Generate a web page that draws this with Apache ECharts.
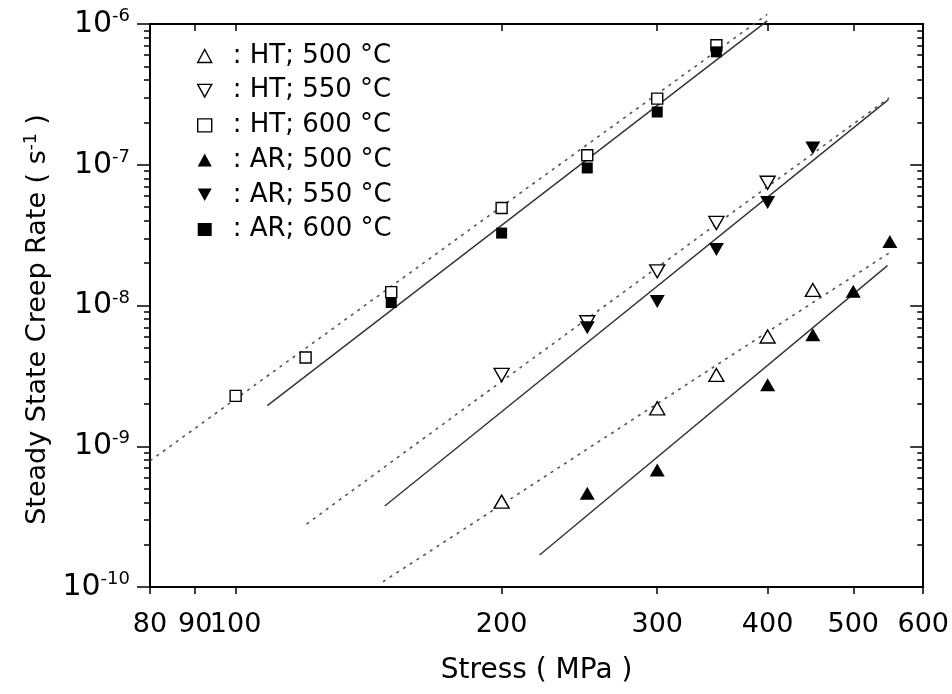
<!DOCTYPE html>
<html><head><meta charset="utf-8">
<script src="https://cdn.jsdelivr.net/npm/echarts@6/dist/echarts.min.js"></script>
<style>html,body{margin:0;padding:0;background:#fff}#c{width:952px;height:694px}</style>
</head><body><div id="c"></div>
<script>
// ---- axis ticks ----
const xTicks = [80, 90, 100, 200, 300, 400, 500, 600];
const yDecades = [-10, -9, -8, -7, -6];
const yMinorMult = [2, 3, 4, 5, 6, 7, 8, 9];

// ---- measured points (stress MPa, steady state creep rate 1/s) ----
const ht500Stress = [200, 300, 350, 400, 450];
const ht500Rate   = [4.04e-10, 1.86e-9, 3.21e-9, 6.02e-9, 1.29e-8];
const ht550Stress = [200, 250, 300, 350, 400];
const ht550Rate   = [3.21e-9, 7.6e-9, 1.75e-8, 3.86e-8, 7.45e-8];
const ht600Stress = [100, 120, 150, 200, 250, 300, 350];
const ht600Rate   = [2.28e-9, 4.27e-9, 1.245e-8, 4.93e-8, 1.167e-7, 2.95e-7, 7.07e-7];
const ar500Stress = [250, 300, 400, 450, 500, 550];
const ar500Rate   = [4.63e-10, 6.78e-10, 2.73e-9, 6.19e-9, 1.26e-8, 2.85e-8];
const ar550Stress = [250, 300, 350, 400, 450];
const ar550Rate   = [6.94e-9, 1.067e-8, 2.5e-8, 5.4e-8, 1.317e-7];
const ar600Stress = [150, 200, 250, 300, 350];
const ar600Rate   = [1.05e-8, 3.27e-8, 9.49e-8, 2.37e-7, 6.34e-7];

// ---- fitted lines (end points) ----
const ht500FitStress = [146.8, 549];
const ht500FitRate   = [1.09e-10, 2.36e-8];
const ht550FitStress = [120.3, 549];
const ht550FitRate   = [2.80e-10, 2.99e-7];
const ht600FitStress = [80, 399.6];
const ht600FitRate   = [7.87e-10, 1.17e-6];
const ar500FitStress = [220.8, 546.6];
const ar500FitRate   = [1.69e-10, 1.92e-8];
const ar550FitStress = [147.5, 548];
const ar550FitRate   = [3.76e-10, 2.9e-7];
const ar600FitStress = [108.6, 399.6];
const ar600FitRate   = [1.945e-9, 1.052e-6];

const seriesNames = ['HT; 500 °C', 'HT; 550 °C', 'HT; 600 °C', 'AR; 500 °C', 'AR; 550 °C', 'AR; 600 °C'];

const FONT = 'DejaVu Sans';
const zip = (a, b) => a.map((v, i) => [v, b[i]]);
const lg = Math.log10;

const xMin = 80, xMax = 600;
const xTickPos = xTicks.map(lg);
const yMajorPos = yDecades.slice();
const yMinorPos = [];
yDecades.slice(0, -1).forEach(d => yMinorMult.forEach(m => yMinorPos.push(d + lg(m))));

function xLabel(v) {
  let best = xTicks[0];
  xTicks.forEach(t => { if (Math.abs(lg(t) - v) < Math.abs(lg(best) - v)) best = t; });
  return String(best);
}

const displayX = (pos, ticks, inside, showLabel, extra) => Object.assign({
  type: 'value', gridIndex: 0, position: pos,
  min: lg(xMin) - 1e-9, max: lg(xMax) + 1e-9,
  axisLine: { show: true, onZero: false, lineStyle: { color: '#000', width: 2 } },
  axisTick: { show: true, inside: inside, length: 7, customValues: ticks, lineStyle: { color: '#000', width: 1.5 } },
  axisLabel: { show: showLabel, customValues: ticks, formatter: xLabel, margin: 24,
    fontFamily: FONT, fontSize: 27, color: '#000' },
  splitLine: { show: false }
}, extra || {});

const displayY = (pos, ticks, len, inside, showLine, showLabel, extra) => Object.assign({
  type: 'value', gridIndex: 0, position: pos, min: -10, max: -6,
  axisLine: { show: showLine, onZero: false, lineStyle: { color: '#000', width: 2 } },
  axisTick: { show: true, inside: inside, length: len, customValues: ticks, lineStyle: { color: '#000', width: 1.5 } },
  axisLabel: { show: showLabel, customValues: ticks, margin: 20,
    formatter: v => '{b|10}{e|' + Math.round(v) + '}',
    rich: {
      b: { fontFamily: FONT, fontSize: 30, color: '#000' },
      e: { fontFamily: FONT, fontSize: 18, color: '#000', padding: [0, 0, 15, 0] }
    } },
  splitLine: { show: false }
}, extra || {});

const openStyle = { color: '#fff', borderColor: '#000', borderWidth: 1.4, opacity: 1 };
const fillStyle = { color: '#000', borderColor: '#000', borderWidth: 0, opacity: 1 };
const downTri = 'path://M0,0 L10,0 L5,9 Z';

function pts(name, xs, ys, symbol, size, rot, style) {
  return { type: 'scatter', name: name, xAxisIndex: 0, yAxisIndex: 0, data: zip(xs, ys),
    symbol: symbol, symbolSize: size, symbolRotate: rot, itemStyle: style, z: 5 };
}
function fit(name, xs, ys, dashed) {
  return { type: 'line', name: name, xAxisIndex: 0, yAxisIndex: 0, data: zip(xs, ys),
    symbol: 'none', clip: false, z: 3, silent: true,
    lineStyle: dashed ? { color: '#555', width: 1.6, type: [3, 5] } : { color: '#333', width: 1.4 } };
}

const legendIcons = ['triangle', downTri, 'rect', 'triangle', downTri, 'rect'];
const legendStyles = [openStyle, openStyle, openStyle, fillStyle, fillStyle, fillStyle];

const option = {
  animation: false,
  backgroundColor: '#fff',
  grid: { left: 150, right: 28, top: 24, bottom: 107 },
  legend: {
    orient: 'vertical', left: 192, top: 38, itemWidth: 14, itemHeight: 13, itemGap: 8.7,
    formatter: n => ': ' + n,
    textStyle: { fontFamily: FONT, fontSize: 26, color: '#000', lineHeight: 26, padding: [0, 0, 0, 16] },
    data: seriesNames.map((n, i) => ({ name: n, icon: legendIcons[i], itemStyle: legendStyles[i] }))
  },
  xAxis: [
    { type: 'log', logBase: 10, min: xMin, max: xMax, show: false },
    displayX('bottom', xTickPos, false, true, {
      name: 'Stress ( MPa )', nameLocation: 'middle', nameGap: 70,
      nameTextStyle: { fontFamily: FONT, fontSize: 28, color: '#000' } }),
    displayX('top', xTickPos, true, false)
  ],
  yAxis: [
    { type: 'log', logBase: 10, min: 1e-10, max: 1e-6, show: false },
    displayY('left', yMajorPos, 13, false, true, true, {
      name: 'Steady State Creep Rate ( s{e|-1} )', nameLocation: 'middle', nameGap: 91,
      nameTextStyle: { fontFamily: FONT, fontSize: 27, color: '#000', padding: [0, 28, 0, 0],
        rich: { e: { fontFamily: FONT, fontSize: 17, color: '#000', padding: [0, 0, 13, 0] } } } }),
    displayY('left', yMinorPos, 6, false, false, false),
    displayY('right', yMajorPos, 13, true, true, false),
    displayY('right', yMinorPos, 6, true, false, false)
  ],
  series: [
    fit('fit HT 500', ht500FitStress, ht500FitRate, true),
    fit('fit HT 550', ht550FitStress, ht550FitRate, true),
    fit('fit HT 600', ht600FitStress, ht600FitRate, true),
    fit('fit AR 500', ar500FitStress, ar500FitRate, false),
    fit('fit AR 550', ar550FitStress, ar550FitRate, false),
    fit('fit AR 600', ar600FitStress, ar600FitRate, false),
    pts(seriesNames[0], ht500Stress, ht500Rate, 'triangle', [15, 13], 0, openStyle),
    pts(seriesNames[1], ht550Stress, ht550Rate, 'triangle', [15, 13], 180, openStyle),
    pts(seriesNames[2], ht600Stress, ht600Rate, 'rect', 11, 0, openStyle),
    pts(seriesNames[3], ar500Stress, ar500Rate, 'triangle', [15, 13], 0, fillStyle),
    pts(seriesNames[4], ar550Stress, ar550Rate, 'triangle', [15, 13], 180, fillStyle),
    pts(seriesNames[5], ar600Stress, ar600Rate, 'rect', 11, 0, fillStyle)
  ]
};

const chart = echarts.init(document.getElementById('c'), null, { renderer: 'canvas' });
chart.setOption(option);
</script>
</body></html>
